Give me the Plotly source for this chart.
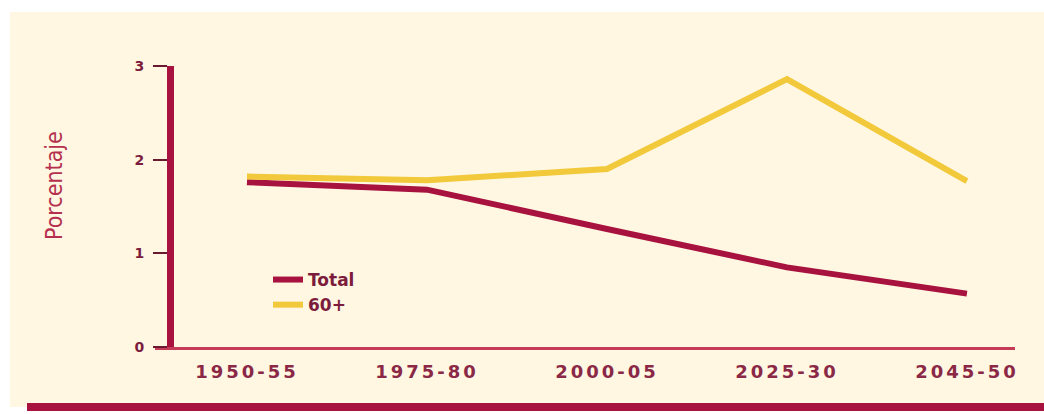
import plotly.graph_objects as go

# ---- data ----
periods = ["1950-55", "1975-80", "2000-05", "2025-30", "2045-50"]
total = [1.76, 1.68, 1.26, 0.85, 0.57]
age60 = [1.82, 1.78, 1.90, 2.86, 1.77]
y_ticks = [0, 1, 2, 3]
y_title = "Porcentaje"
names = ["Total", "60+"]

CRIMSON = "#a8123f"
YELLOW = "#f1c93a"
CREAM = "#fff7e2"
TXT = "#7c1c3c"

fig = go.Figure()
fig.add_trace(go.Scatter(x=periods, y=total, mode="lines", name=names[0],
                         line=dict(color=CRIMSON, width=6)))
fig.add_trace(go.Scatter(x=periods, y=age60, mode="lines", name=names[1],
                         line=dict(color=YELLOW, width=6)))

W, H = 1044, 414
L, R, T, B = 155, 29, 66, 67
pw, ph = W - L - R, H - T - B

def px(xp):
    return (xp - L) / pw

def py(yp):
    return (H - B - yp) / ph

fig.update_layout(
    width=W, height=H,
    margin=dict(l=L, r=R, t=T, b=B),
    paper_bgcolor="white",
    plot_bgcolor="rgba(0,0,0,0)",
    showlegend=True,
    legend=dict(x=px(268), y=py(262), xanchor="left", yanchor="top",
                bgcolor="rgba(0,0,0,0)",
                font=dict(family="DejaVu Sans", size=17, color=TXT, weight="bold"),
                tracegroupgap=0),
    xaxis=dict(type="category", range=[-0.511, 4.267],
               showline=True, linecolor="#c43c58", linewidth=3,
               showgrid=False, zeroline=False, ticks="",
               tickfont=dict(family="DejaVu Sans", size=18, color="#8a2846", weight="bold"),
               ticklabelstandoff=6),
    yaxis=dict(range=[0, 3], anchor="free", position=px(170),
               tickvals=y_ticks,
               showline=True, linecolor=CRIMSON, linewidth=7,
               showgrid=False, zeroline=False,
               ticks="outside", ticklen=14, tickwidth=2, tickcolor="#6a1a30",
               tickfont=dict(family="DejaVu Sans", size=14, color=TXT, weight="bold"),
               ticklabelstandoff=6),
    shapes=[
        dict(type="rect", xref="paper", yref="paper", layer="below",
             x0=px(10), x1=px(1060), y0=py(407), y1=py(12),
             fillcolor=CREAM, line=dict(width=0)),
        dict(type="rect", xref="paper", yref="paper", layer="above",
             x0=px(27), x1=px(1060), y0=py(411), y1=py(403),
             fillcolor=CRIMSON, line=dict(width=0)),
    ],
    annotations=[
        dict(text=y_title, xref="paper", yref="paper", x=px(54), y=py(186),
             xanchor="center", yanchor="middle", textangle=-90, showarrow=False,
             font=dict(family="Liberation Sans Narrow, DejaVu Sans Condensed, sans-serif",
                       size=23, color="#b5304f")),
    ],
)

post = """
document.body.style.margin = '0';
document.body.style.overflow = 'hidden';
function spread(){
  document.querySelectorAll('.xtick text').forEach(function(t){t.setAttribute('letter-spacing','3px');});
}
spread();
var gd = document.getElementsByClassName('plotly-graph-div')[0];
if (gd && gd.on) { gd.on('plotly_afterplot', spread); }
"""

fig.write_html("out.html", post_script=post, config={"displayModeBar": False})
